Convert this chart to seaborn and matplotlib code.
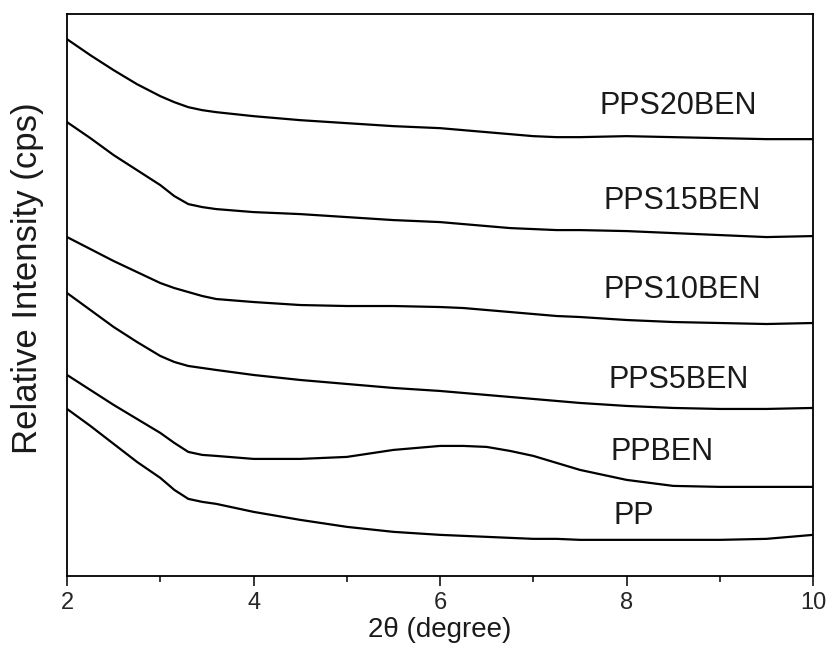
import pandas as pd
import matplotlib
matplotlib.use('Agg')
import matplotlib.pyplot as plt
import seaborn as sns

# 2-theta grid (degree)
two_theta = [2.0, 2.25, 2.5, 2.75, 3.0, 3.15, 3.3, 3.45, 3.6, 4.0, 4.5, 5.0,
             5.5, 6.0, 6.25, 6.5, 6.75, 7.0, 7.25, 7.5, 8.0, 8.5, 9.0, 9.5, 10.0]

# relative intensity (arbitrary units, stacked)
pps20ben = [537, 521, 506, 492, 480, 474, 469, 466, 464, 460, 456, 453,
            450, 448, 446, 444, 442, 440, 439, 439, 440, 439, 438, 437, 437]
pps15ben = [454, 438, 421, 406, 391, 380, 372, 369, 367, 364, 362, 359,
            356, 354, 352, 350, 348, 347, 346, 346, 345, 343, 341, 339, 340]
pps10ben = [339, 327, 315, 304, 293, 288, 284, 280, 277, 274, 271, 270,
            270, 269, 268, 266, 264, 262, 260, 259, 256, 254, 253, 252, 253]
pps5ben = [283, 266, 249, 234, 220, 214, 210, 208, 206, 201, 196, 192,
           188, 185, 183, 181, 179, 177, 175, 173, 170, 168, 167, 167, 168]
ppben = [201, 186, 171, 157, 143, 133, 124, 121, 120, 117, 117, 119,
         126, 130, 130, 129, 125, 120, 113, 106, 96, 90, 89, 89, 89]
pp = [167, 150, 132, 114, 98, 86, 77, 74, 72, 64, 56, 49,
      44, 41, 40, 39, 38, 37, 37, 36, 36, 36, 36, 37, 41]

samples = ['PPS20BEN', 'PPS15BEN', 'PPS10BEN', 'PPS5BEN', 'PPBEN', 'PP']
label_x = [8.55, 8.6, 8.6, 8.56, 8.38, 8.08]
label_y = [470, 375, 286, 196, 124, 60]

series = dict(zip(samples, [pps20ben, pps15ben, pps10ben, pps5ben, ppben, pp]))
df = pd.concat([pd.DataFrame({'2theta': two_theta, 'intensity': v, 'sample': k})
                for k, v in series.items()])

sns.set_style('ticks')
plt.rcParams['font.family'] = ['Liberation Sans', 'DejaVu Sans']

fig = plt.figure(figsize=(8.28, 6.47), dpi=100)
ax = fig.add_axes([0.081, 0.110, 0.901, 0.868])

sns.lineplot(data=df, x='2theta', y='intensity', units='sample', estimator=None,
             color='black', linewidth=1.6, ax=ax, legend=False)

for name, tx, ty in zip(samples, label_x, label_y):
    ax.text(tx, ty, name, ha='center', va='center', fontsize=22, color='#1a1a1a')

ax.set_xlim(2, 10)
ax.set_ylim(0, 562)
ax.set_xticks([2, 4, 6, 8, 10])
ax.set_xticks([3, 5, 7, 9], minor=True)
ax.set_yticks([])
ax.tick_params(axis='x', which='major', direction='out', length=7, width=1.3,
               labelsize=17, pad=5)
ax.tick_params(axis='x', which='minor', direction='out', length=4, width=1.3)
for s in ax.spines.values():
    s.set_linewidth(1.3)
    s.set_color('black')

ax.set_xlabel('2θ (degree)', fontsize=20, labelpad=2, color='#1a1a1a')
ax.set_ylabel('Relative Intensity (cps)', fontsize=25, color='#1a1a1a')
ax.yaxis.set_label_coords(-0.031, 0.53)

fig.savefig('out.png', dpi=100)
